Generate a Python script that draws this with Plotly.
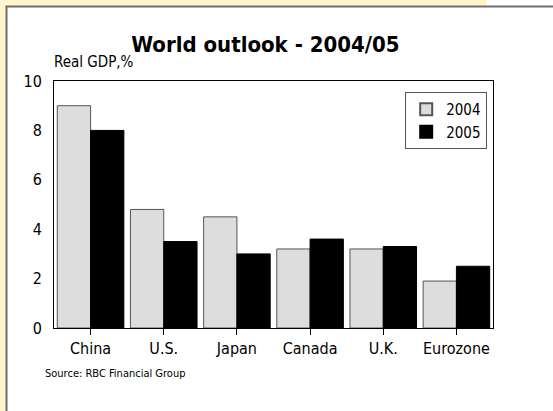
import plotly.graph_objects as go

countries = ["China", "U.S.", "Japan", "Canada", "U.K.", "Eurozone"]
gdp_2004 = [9.0, 4.8, 4.5, 3.2, 3.2, 1.9]
gdp_2005 = [8.0, 3.5, 3.0, 3.6, 3.3, 2.5]
y_ticks = [0, 2, 4, 6, 8, 10]

FONT = "DejaVu Sans Condensed, Liberation Sans, sans-serif"
CREAM = "#FFF6CF"

fig = go.Figure()
fig.add_bar(x=countries, y=gdp_2004, name="2004",
            marker=dict(color="#DDDDDD", line=dict(color="#555555", width=1)))
fig.add_bar(x=countries, y=gdp_2005, name="2005",
            marker=dict(color="#000000", line=dict(color="#000000", width=1)))

fig.update_layout(
    width=553, height=411,
    margin=dict(l=54, r=60, t=81, b=83),
    paper_bgcolor="white", plot_bgcolor="white",
    barmode="group", bargap=0.09, bargroupgap=0,
    font=dict(family=FONT, color="black", size=16),
    showlegend=True,
    legend=dict(x=0.8, y=0.955, xanchor="left", yanchor="top",
                bordercolor="#555555", borderwidth=1, bgcolor="white",
                font=dict(size=15), itemsizing="constant", itemwidth=30,
                tracegroupgap=0),
    title=dict(text="<b>World outlook - 2004/05</b>", x=0.48, xanchor="center",
               y=0.893, yanchor="middle", font=dict(size=22, family=FONT)),
)
fig.update_xaxes(showline=True, linecolor="black", linewidth=1, mirror=True,
                 ticks="outside", ticklen=6, tickcolor="black",
                 tickfont=dict(size=16), showgrid=False)
fig.update_yaxes(range=[0, 10], tickvals=y_ticks, showline=True, linecolor="black",
                 linewidth=1, mirror=True, ticks="", showgrid=False, zeroline=False,
                 tickfont=dict(size=16), ticklabelstandoff=8)

# cream frame strips and grey panel edge
fig.add_shape(type="rect", xref="paper", yref="paper", x0=-54/439, x1=(486-54)/439,
              y0=1 + 75/247, y1=1 + 81/247, fillcolor=CREAM, line_width=0, layer="below")
fig.add_shape(type="rect", xref="paper", yref="paper", x0=-54/439, x1=-48/439,
              y0=-83/247, y1=1 + 81/247, fillcolor=CREAM, line_width=0, layer="below")
fig.add_shape(type="line", xref="paper", yref="paper", x0=-47.5/439, x1=-47.5/439,
              y0=-83/247, y1=1 + 74.5/247, line=dict(color="#6E6E6E", width=2))
fig.add_shape(type="line", xref="paper", yref="paper", x0=-48.5/439, x1=499/439,
              y0=1 + 74.5/247, y1=1 + 74.5/247, line=dict(color="#6E6E6E", width=2))

fig.add_annotation(text="Real GDP,%", xref="paper", yref="paper", x=-2/439, y=1 + 8/247,
                   xanchor="left", yanchor="bottom", showarrow=False, font=dict(size=15))
fig.add_annotation(text="Source: RBC Financial Group", xref="paper", yref="paper",
                   x=-11/439, y=-45/247, xanchor="left", yanchor="middle",
                   showarrow=False, font=dict(size=11))

# the page body carries an 8px default margin; drop it so the figure sits at 0,0
fig.write_html("out.html", config={"displayModeBar": False},
               post_script="document.body.style.margin='0';")
